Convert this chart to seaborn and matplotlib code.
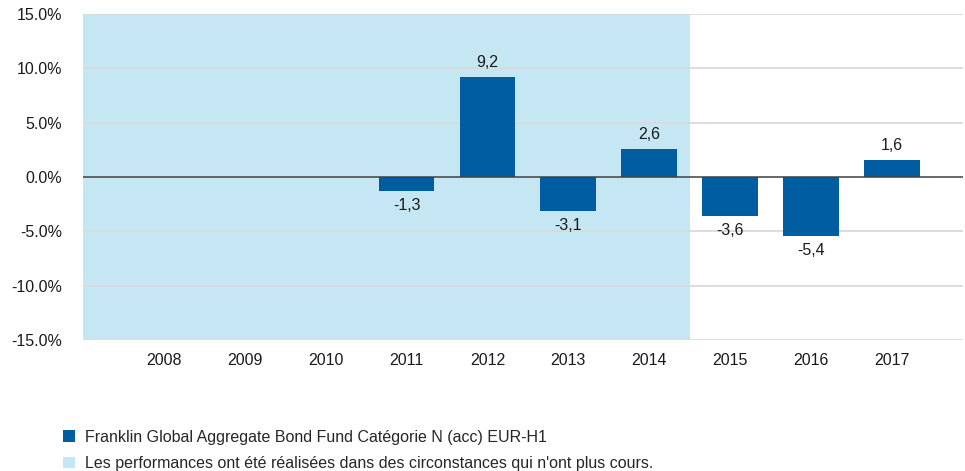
import matplotlib
matplotlib.use('Agg')
import matplotlib.pyplot as plt
from matplotlib.patches import Patch
import pandas as pd
import seaborn as sns

years = ["2008", "2009", "2010", "2011", "2012", "2013", "2014", "2015", "2016", "2017"]
perf = [None, None, None, -1.3, 9.2, -3.1, 2.6, -3.6, -5.4, 1.6]
y_ticks = [-15, -10, -5, 0, 5, 10, 15]
fund_label = "Franklin Global Aggregate Bond Fund Catégorie N (acc) EUR-H1"
old_label = "Les performances ont été réalisées dans des circonstances qui n'ont plus cours."

BAR = "#005DA2"
SHADE = "#C5E7F3"

sns.set_style("white")
plt.rcParams['font.family'] = ['Liberation Sans', 'DejaVu Sans']

df = pd.DataFrame({"year": years, "perf": perf})

fig = plt.figure(figsize=(9.65, 4.71), dpi=100)
ax = fig.add_axes([0.086, 0.278, 0.912, 0.692])

# zone des performances anciennes
ax.axvspan(-1.0, 6.5, color=SHADE, zorder=0, lw=0)

for t in y_ticks:
    if t != 0:
        ax.axhline(t, color="#DADADA", lw=1.3, zorder=0.5)
ax.axhline(0, color="#404040", lw=1.1, zorder=3)

sns.barplot(data=df, x="year", y="perf", color=BAR, width=0.69,
            saturation=1, linewidth=0, ax=ax, zorder=2)

for i, v in enumerate(perf):
    if v is None:
        continue
    lbl = f"{v:.1f}".replace(".", ",")
    if v >= 0:
        ax.annotate(lbl, (i, v), xytext=(0, 5), textcoords="offset points",
                    ha="center", va="bottom", fontsize=11.5, color="#1a1a1a")
    else:
        ax.annotate(lbl, (i, v), xytext=(0, -5), textcoords="offset points",
                    ha="center", va="top", fontsize=11.5, color="#1a1a1a")

ax.set_xlim(-1.0, 9.88)
ax.set_ylim(-15, 15)
ax.set_yticks(y_ticks)
ax.set_yticklabels([f"{t:.1f}%" for t in y_ticks])
ax.set_xlabel("")
ax.set_ylabel("")
ax.tick_params(axis="both", length=0, labelsize=11.5, colors="#1a1a1a")
ax.tick_params(axis="y", pad=15)
ax.tick_params(axis="x", pad=9)
sns.despine(ax=ax, left=True, bottom=True)

handles = [Patch(facecolor=BAR, edgecolor="none"), Patch(facecolor=SHADE, edgecolor="none")]
fig.legend(handles, [fund_label, old_label], loc="upper left",
           bbox_to_anchor=(0.065, 0.088), frameon=False, fontsize=11.5,
           handlelength=0.75, handleheight=0.75, handletextpad=0.65,
           labelspacing=0.72, borderaxespad=0, borderpad=0)

fig.savefig("out.png", dpi=100)
plt.close(fig)
